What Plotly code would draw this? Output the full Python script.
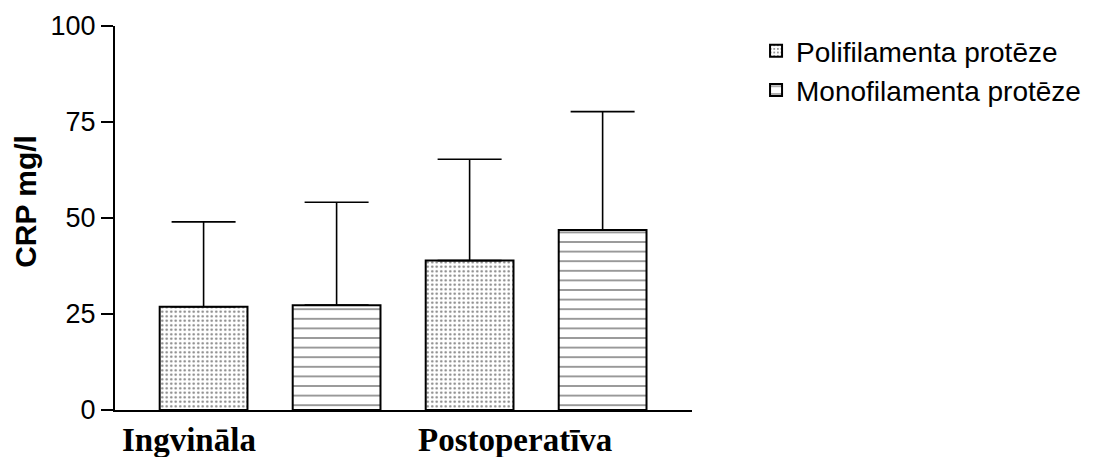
import plotly.graph_objects as go

categories = ["Ingvināla", "Postoperatīva"]
series_names = ["Polifilamenta protēze", "Monofilamenta protēze"]
poli_mean = [26.9, 38.9]
poli_sd = [22.1, 26.4]
mono_mean = [27.3, 46.9]
mono_sd = [26.8, 30.8]
y_ticks = [0, 25, 50, 75, 100]
label_shifts = [-81, -21]

fig = go.Figure()
fig.add_trace(go.Bar(
    x=categories, y=poli_mean, name=series_names[0],
    marker=dict(color="white", line=dict(color="black", width=2),
                pattern=dict(shape=".", size=4.5, solidity=0.22, fgcolor="black", bgcolor="white")),
    error_y=dict(type="data", symmetric=False, array=poli_sd, arrayminus=[0, 0],
                 color="black", thickness=1.6, width=32),
))
fig.add_trace(go.Bar(
    x=categories, y=mono_mean, name=series_names[1],
    marker=dict(color="white", line=dict(color="black", width=2),
                pattern=dict(shape="-", size=9.6, solidity=0.16, fgcolor="black", bgcolor="white")),
    error_y=dict(type="data", symmetric=False, array=mono_sd, arrayminus=[0, 0],
                 color="black", thickness=1.6, width=32),
))

for cat, sh in zip(categories, label_shifts):
    fig.add_annotation(x=cat, xref="x", y=-0.078, yref="paper", text=f"<b>{cat}</b>",
                       showarrow=False, xanchor="center", yanchor="middle", xshift=sh,
                       font=dict(family="Liberation Serif", size=33, color="black"))

fig.add_annotation(x=0, xref="paper", y=0.542, yref="paper", xshift=-89, text="<b>CRP mg/l</b>",
                   textangle=-90, showarrow=False, xanchor="center", yanchor="middle",
                   font=dict(family="Liberation Sans", size=30, color="black"))

fig.update_layout(
    width=1113, height=457,
    margin=dict(l=115, r=421, t=26, b=47),
    paper_bgcolor="white", plot_bgcolor="white",
    barmode="group", bargap=0.0, bargroupgap=0.34,
    font=dict(family="Liberation Sans", color="black"),
    showlegend=True,
    legend=dict(x=1.111, y=1.0, xanchor="left", yanchor="top",
                font=dict(family="Liberation Sans", size=28, color="black"),
                tracegroupgap=0, bgcolor="rgba(0,0,0,0)"),
    xaxis=dict(range=[-0.583, 1.586], showticklabels=False, ticks="",
               showline=True, linecolor="black", linewidth=2, showgrid=False, zeroline=False),
    yaxis=dict(range=[0, 100], tickvals=y_ticks, ticks="outside", ticklen=12, tickwidth=2,
               tickcolor="black", showline=True, linecolor="black", linewidth=2,
               showgrid=False, zeroline=False,
               tickfont=dict(family="Liberation Sans", size=27, color="black")),
)

fig.write_html("out.html")
